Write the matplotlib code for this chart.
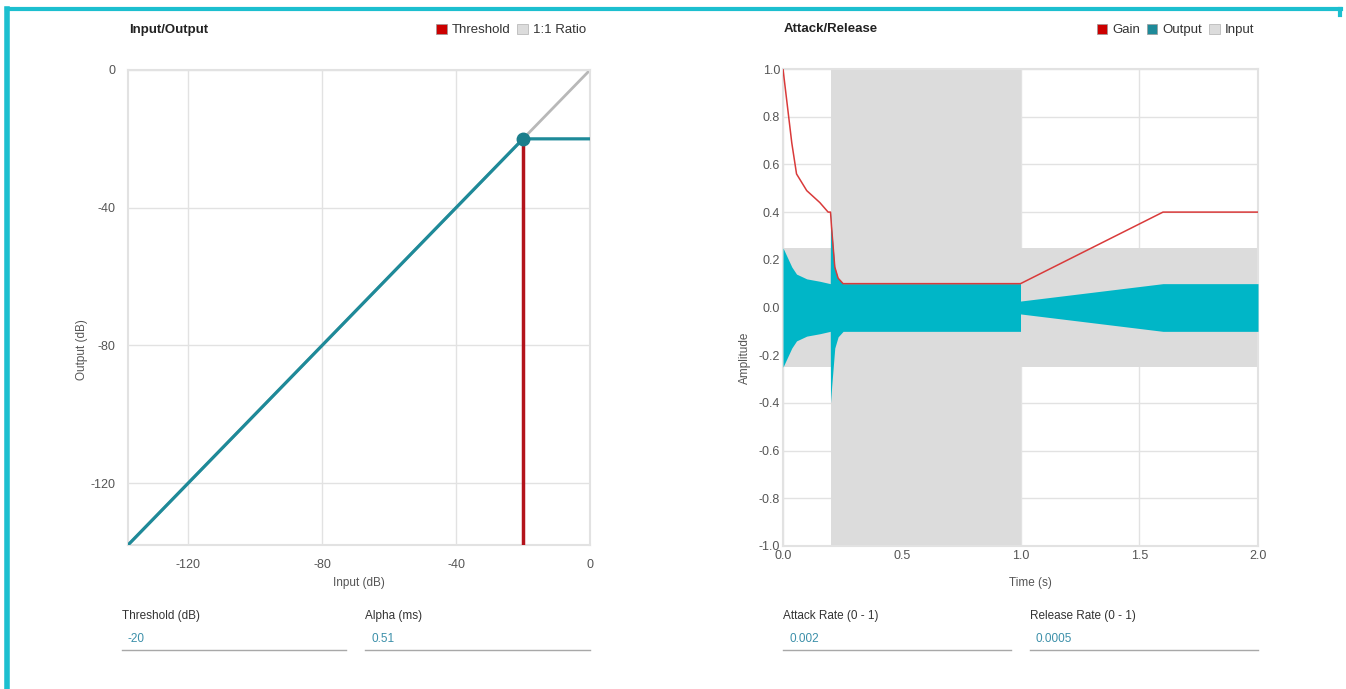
import matplotlib.pyplot as plt
from matplotlib.patches import Patch
from matplotlib.lines import Line2D

plt.rcParams['font.family'] = ['Liberation Sans', 'DejaVu Sans']
plt.rcParams['axes.unicode_minus'] = False

# --- data: input/output curve
io_in = [-138, -20, 0]
io_out = [-138, -20, -20]
ratio_x = [-138, 0]
ratio_y = [-138, 0]
threshold = -20
io_ticks = [-120, -80, -40, 0]

# --- data: attack/release
gain_t = [0, 0.037, 0.057, 0.1, 0.155, 0.19, 0.2, 0.205, 0.218, 0.232, 0.253, 1.0, 1.6, 2.0]
gain_v = [1.0, 0.69, 0.56, 0.49, 0.44, 0.4, 0.4, 0.33, 0.17, 0.123, 0.1, 0.1, 0.4, 0.4]
input_t = [0, 0.2, 0.2, 1.0, 1.0, 2.0]
input_env = [0.25, 0.25, 1.0, 1.0, 0.25, 0.25]
output_t = [0, 0.037, 0.057, 0.1, 0.155, 0.199, 0.2, 0.205, 0.218, 0.232, 0.253, 1.0, 1.0, 1.6, 2.0]
output_env = [0.25, 0.17, 0.14, 0.12, 0.11, 0.1, 0.4, 0.33, 0.17, 0.123, 0.1, 0.1, 0.027, 0.1, 0.1]
time_ticks = [0.0, 0.5, 1.0, 1.5, 2.0]
amp_ticks = [1.0, 0.8, 0.6, 0.4, 0.2, 0.0, -0.2, -0.4, -0.6, -0.8, -1.0]

fields = [("Threshold (dB)", "-20", 122, 346),
          ("Alpha (ms)", "0.51", 365, 590),
          ("Attack Rate (0 - 1)", "0.002", 783, 1011),
          ("Release Rate (0 - 1)", "0.0005", 1030, 1258)]

W, H = 1346, 689
RED = '#cc0000'
TEAL = '#1e8a99'
CYAN = '#00b6c7'
GRAY_IN = '#dcdcdc'
GRID = '#e2e2e2'
TXT = '#555555'

fig = plt.figure(figsize=(W / 100, H / 100), dpi=100)


def style(ax):
    for s in ax.spines.values():
        s.set_color(GRID)
        s.set_linewidth(1.5)
    ax.grid(True, color=GRID, linewidth=1)
    ax.set_axisbelow(True)
    ax.tick_params(length=0, labelsize=9, labelcolor=TXT)


# left: input/output
ax1 = fig.add_axes([128 / W, 1 - 545 / H, 462 / W, 475 / H])
style(ax1)
ax1.plot(ratio_x, ratio_y, color='#b8b8b8', lw=2, zorder=2)
ax1.plot([threshold, threshold], [io_out[1], io_out[0]], color='#b3131b', lw=2.5, zorder=3)
ax1.plot(io_in, io_out, color=TEAL, lw=2.3, zorder=4)
ax1.plot([threshold], [threshold], 'o', color='#1b7e8c', ms=9, zorder=5)
ax1.set_xlim(-138, 0)
ax1.set_ylim(-138, 0)
ax1.set_xticks(io_ticks)
ax1.set_yticks(io_ticks)
ax1.tick_params(axis='x', pad=10)
ax1.tick_params(axis='y', pad=9)
ax1.set_xlabel("Input (dB)", fontsize=8.5, color=TXT)
ax1.set_ylabel("Output (dB)", fontsize=8.5, color=TXT)
ax1.xaxis.set_label_coords(0.5, -(577 - 545) / 475)
ax1.yaxis.set_label_coords(-(128 - 88) / 462, (545 - 350) / 475)

# right: attack/release
ax2 = fig.add_axes([783 / W, 1 - 546 / H, 475 / W, 477 / H])
style(ax2)
ax2.fill_between(input_t, [-v for v in input_env], input_env, color=GRAY_IN, lw=0, zorder=2)
ax2.fill_between(output_t, [-v for v in output_env], output_env, color=CYAN, lw=0, zorder=3)
ax2.plot(gain_t, gain_v, color='#d93a3a', lw=1.1, zorder=4)
ax2.set_xlim(0, 2.0)
ax2.set_ylim(-1.0, 1.0)
ax2.set_xticks(time_ticks)
ax2.set_xticklabels([f"{t:.1f}" for t in time_ticks])
ax2.set_yticks(amp_ticks)
ax2.set_yticklabels([f"{v:.1f}" for v in amp_ticks])
ax2.tick_params(axis='x', pad=3)
ax2.tick_params(axis='y', pad=2)
ax2.set_xlabel("Time (s)", fontsize=8.5, color=TXT)
ax2.set_ylabel("Amplitude", fontsize=8.5, color=TXT)
ax2.xaxis.set_label_coords(0.52, -(577 - 546) / 477)
ax2.yaxis.set_label_coords(-(783 - 751) / 475, (546 - 358) / 477)

# titles
fig.text(129 / W, 1 - 29.5 / H, "Input/Output", fontsize=9.5, weight='bold', color='#222222', va='center')
fig.text(784 / W, 1 - 29.5 / H, "Attack/Release", fontsize=9.5, weight='bold', color='#222222', va='center')

# legends
leg_kw = dict(loc='center right', frameon=False, ncol=3, fontsize=9.5, handlelength=0.8,
              handleheight=0.8, handletextpad=0.4, columnspacing=0.5, borderpad=0, labelcolor='#333333')
fig.legend([Patch(facecolor=RED, edgecolor='#999999', lw=0.5),
            Patch(facecolor=GRAY_IN, edgecolor='#b0b0b0', lw=0.5)],
           ["Threshold", "1:1 Ratio"], bbox_to_anchor=(593 / W, 1 - 30 / H), **leg_kw)
fig.legend([Patch(facecolor=RED, edgecolor='#999999', lw=0.5),
            Patch(facecolor=TEAL, edgecolor='#999999', lw=0.5),
            Patch(facecolor=GRAY_IN, edgecolor='#b0b0b0', lw=0.5)],
           ["Gain", "Output", "Input"], bbox_to_anchor=(1261 / W, 1 - 30 / H), **leg_kw)

# input fields below the charts
for label, value, x0, x1 in fields:
    fig.text(x0 / W, 1 - 616 / H, label, fontsize=8.5, color='#333333', va='center')
    fig.text((x0 + 6) / W, 1 - 639 / H, value, fontsize=8.5, color='#3b8fa9', va='center')
    fig.add_artist(Line2D([x0 / W, x1 / W], [1 - 650 / H] * 2, color='#a8a8a8', lw=1))

# page frame
BORDER = '#1cbfcf'
fig.add_artist(Line2D([7 / W, 1341 / W], [1 - 9 / H] * 2, color=BORDER, lw=3))
fig.add_artist(Line2D([7 / W, 7 / W], [0, 1 - 9 / H], color=BORDER, lw=4))
fig.add_artist(Line2D([1340 / W, 1340 / W], [1 - 9 / H, 1 - 15 / H], color=BORDER, lw=3))

fig.savefig("out.png", dpi=100)
plt.close(fig)
